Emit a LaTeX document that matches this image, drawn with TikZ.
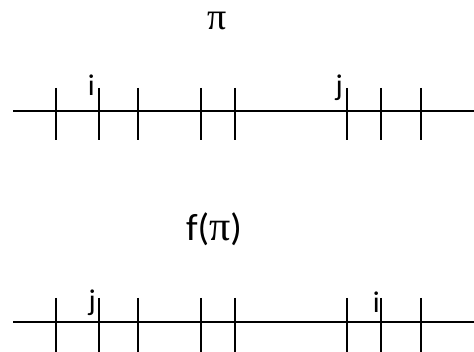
\documentclass[tikz,border=0pt]{standalone}
\usepackage{fontspec}
\setmainfont{Carlito}
\newfontfamily\pifont{Liberation Serif}
\begin{document}
\begin{tikzpicture}[x=1pt,y=-1pt,
  axis/.style={line width=2pt},
  tick/.style={line width=2pt},
  lbl/.style={inner sep=0pt,font=\fontsize{30}{32}\selectfont,anchor=base east},
  title/.style={inner sep=0pt,font=\fontsize{38}{40}\selectfont}]
\useasboundingbox (0,0) rectangle (474,352);
% top line
\coordinate (a1) at (13,111);
\coordinate (a2) at (474,111);
\draw[axis] (a1) -- (a2);
\foreach \x in {56,99,138,201,235,347,381,421}{
  \draw[tick] (\x,88) -- (\x,140);
}
\node[title] (pi) at (217,21) {\pifont π};
\node[lbl] (li) at (95,96) {i};
\node[lbl] (lj) at (343,96) {j};
% bottom line
\coordinate (b1) at (13,322);
\coordinate (b2) at (474,322);
\draw[axis] (b1) -- (b2);
\foreach \x in {56,99,138,201,235,347,381,421}{
  \draw[tick] (\x,298) -- (\x,352);
}
\node[title] (fpi) at (214,229) {f({\pifont\fontsize{42}{44}\selectfont π})};
\node[lbl] (lj2) at (96,311) {j};
\node[lbl] (li2) at (380,313) {i};
\end{tikzpicture}
\end{document}
